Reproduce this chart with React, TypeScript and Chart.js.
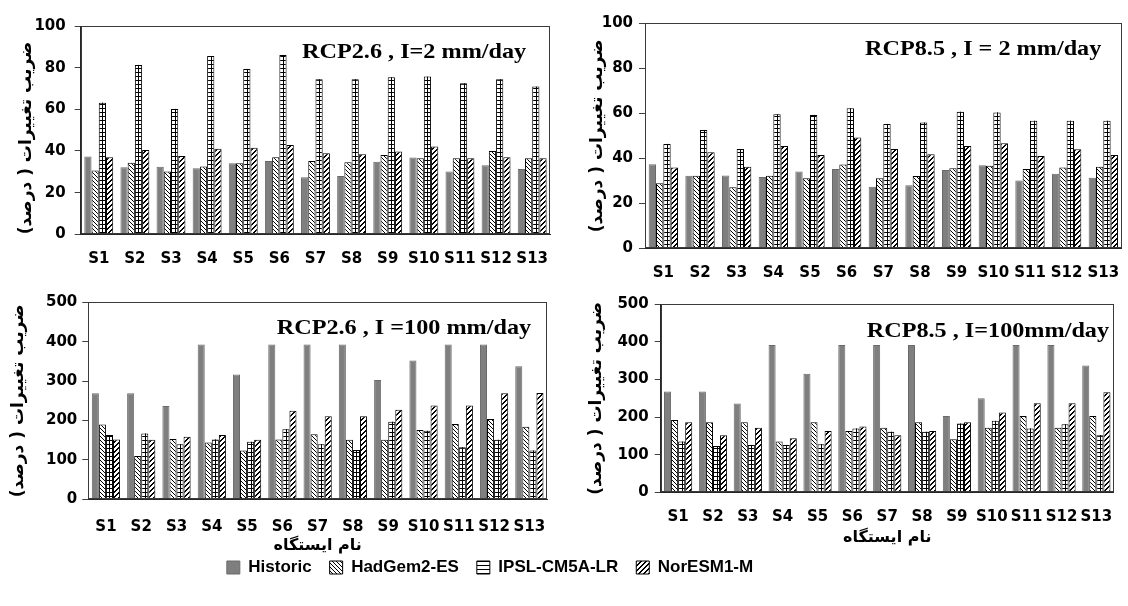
import React, { useEffect, useRef } from 'react';
import { Chart, registerables } from 'chart.js';

Chart.register(...registerables);

// ---------------- data ----------------
const STATIONS = ['S1', 'S2', 'S3', 'S4', 'S5', 'S6', 'S7', 'S8', 'S9', 'S10', 'S11', 'S12', 'S13'];
const SERIES = ['Historic', 'HadGem2-ES', 'IPSL-CM5A-LR', 'NorESM1-M'];
const Y_TITLE = 'ضریب تغییرات ( درصد)';
const X_TITLE = 'نام ایستگاه';
const PANEL_TITLES = ['RCP2.6 , I=2 mm/day', 'RCP8.5 , I = 2 mm/day', 'RCP2.6 , I =100 mm/day', 'RCP8.5 , I=100mm/day'];
const Y_TICKS_I2 = [0, 20, 40, 60, 80, 100];
const Y_TICKS_I100 = [0, 100, 200, 300, 400, 500];

// I = 2 mm/day
const HIST_I2 = [37.4, 32.2, 32.4, 31.7, 34.1, 35.2, 27.4, 28.0, 34.8, 36.9, 30.1, 33.1, 31.4];
const RCP26_I2_HAD = [30.6, 34.4, 30.1, 32.5, 34.1, 37.0, 35.2, 34.6, 38.1, 36.5, 36.5, 40.0, 36.5];
const RCP26_I2_IPSL = [63.2, 81.3, 60.2, 85.6, 79.4, 86.1, 74.4, 74.4, 75.4, 75.7, 72.5, 74.4, 70.9];
const RCP26_I2_NOR = [37.0, 40.5, 37.6, 41.1, 41.6, 42.9, 38.9, 38.4, 39.7, 42.1, 36.5, 37.0, 36.5];
const RCP85_I2_HAD = [28.9, 32.3, 27.1, 32.3, 31.1, 37.3, 31.1, 32.1, 35.6, 36.7, 35.3, 35.9, 36.3];
const RCP85_I2_IPSL = [46.4, 52.6, 44.1, 59.6, 59.3, 62.2, 55.3, 55.9, 60.7, 60.4, 56.7, 56.7, 56.7];
const RCP85_I2_NOR = [35.9, 42.7, 36.3, 45.5, 41.5, 49.3, 44.1, 41.8, 45.5, 46.7, 41.0, 44.0, 41.5];

// I = 100 mm/day
const RCP26_I100_HIST = [269, 269, 237, 393, 317, 393, 393, 393, 303, 352, 393, 393, 338];
const RCP26_I100_HAD = [190, 110, 153, 144, 124, 152, 165, 151, 151, 176, 191, 204, 184];
const RCP26_I100_IPSL = [163, 167, 140, 152, 146, 178, 140, 125, 197, 174, 132, 151, 124];
const RCP26_I100_NOR = [152, 151, 159, 163, 151, 225, 211, 211, 227, 238, 238, 269, 270];
const RCP85_I100_HIST = [268, 268, 236, 392, 315, 392, 392, 392, 203, 250, 392, 392, 337];
const RCP85_I100_HAD = [192, 186, 186, 135, 186, 163, 172, 186, 141, 172, 203, 172, 203];
const RCP85_I100_IPSL = [135, 123, 126, 126, 128, 170, 161, 161, 183, 190, 170, 181, 152];
const RCP85_I100_NOR = [186, 152, 172, 144, 163, 175, 152, 163, 186, 212, 237, 237, 266];

const PANEL_DATA = [
  [HIST_I2, RCP26_I2_HAD, RCP26_I2_IPSL, RCP26_I2_NOR],
  [HIST_I2, RCP85_I2_HAD, RCP85_I2_IPSL, RCP85_I2_NOR],
  [RCP26_I100_HIST, RCP26_I100_HAD, RCP26_I100_IPSL, RCP26_I100_NOR],
  [RCP85_I100_HIST, RCP85_I100_HAD, RCP85_I100_IPSL, RCP85_I100_NOR],
];
const PANEL_TICKS = [Y_TICKS_I2, Y_TICKS_I2, Y_TICKS_I100, Y_TICKS_I100];

// ---------------- layout (absolute page px) ----------------
type Layout = {
  box: [number, number, number, number];
  area: [number, number, number, number];
  yTitleX: number;
  yTitleAlign: 'start' | 'center' | 'end';
  yLabelPad: number;
  xLabelY: number;
  xTitleY: number | null;
  titleXY: [number, number];
  cat: number;
};
const LAYOUT: Layout[] = [
  { box: [0, 0, 564, 285], area: [80.7, 26, 557, 234.3], yTitleX: 26.5, yTitleAlign: 'start', yLabelPad: 9, xLabelY: 259, xTitleY: null, titleXY: [302, 58.3], cat: 0.8 },
  { box: [564, 0, 571, 285], area: [645, 23.3, 1131, 248.3], yTitleX: 598, yTitleAlign: 'center', yLabelPad: 6, xLabelY: 273, xTitleY: null, titleXY: [865, 55], cat: 0.8 },
  { box: [0, 280, 564, 290], area: [88.3, 302.3, 561.5, 499.3], yTitleX: 19, yTitleAlign: 'center', yLabelPad: 5, xLabelY: 527, xTitleY: 546, titleXY: [276.7, 334.3], cat: 0.8 },
  { box: [564, 280, 564, 290], area: [660.7, 304.3, 1125, 492.3], yTitleX: 597, yTitleAlign: 'center', yLabelPad: 6, xLabelY: 517, xTitleY: 538, titleXY: [866.7, 336.7], cat: 0.81 },
];
const LEGEND_BOX: [number, number, number, number] = [0, 541, 980, 130];

const TICK_FONT = '"DejaVu Sans", sans-serif';
const TICK_SIZE = 15;
const FA_FONT = '"DejaVu Sans", sans-serif';
const LEGEND_FONT = '"Liberation Sans Narrow", "Liberation Sans", Arial, sans-serif';

function makePatterns() {
  const mk = (w: number, h: number, draw: (c: CanvasRenderingContext2D) => void) => {
    const c = document.createElement('canvas');
    c.width = w;
    c.height = h;
    const g = c.getContext('2d')!;
    g.fillStyle = '#ffffff';
    g.fillRect(0, 0, w, h);
    g.fillStyle = '#000000';
    draw(g);
    return g.createPattern(c, 'repeat') as CanvasPattern;
  };
  const had = mk(4, 4, (g) => {
    for (let i = 0; i < 4; i++) g.fillRect(i, i, 1, 1);
  });
  const ipsl = mk(4, 4, (g) => {
    g.fillRect(0, 0, 4, 1);
  });
  const nor = mk(5, 5, (g) => {
    for (let x = 0; x < 5; x++)
      for (let y = 0; y < 5; y++) if ((x + y) % 5 < 2) g.fillRect(x, y, 1, 1);
  });
  return { had, ipsl, nor };
}

export default function App() {
  const refs = useRef<(HTMLCanvasElement | null)[]>([]);
  const legendRef = useRef<HTMLCanvasElement | null>(null);

  useEffect(() => {
    const pats = makePatterns();
    const fills: any[] = ['#7f7f7f', pats.had, pats.ipsl, pats.nor];
    const borders = ['#6a6a6a', '#000000', '#000000', '#000000'];
    const charts: Chart[] = [];

    LAYOUT.forEach((L, pi) => {
      const canvas = refs.current[pi];
      if (!canvas) return;
      const [bx, by, bw, bh] = L.box;
      const [al, at, ar, ab] = L.area;
      const ticks = PANEL_TICKS[pi];
      const decor = {
        id: 'decor' + pi,
        afterDatasetsDraw(chart: any) {
          const { ctx, chartArea } = chart;
          ctx.save();
          // centre line of the IPSL ladder hatch, taken from the library's bar elements
          const meta = chart.getDatasetMeta(2);
          ctx.strokeStyle = '#000';
          ctx.lineWidth = 1;
          meta.data.forEach((el: any) => {
            const x = Math.round(el.x) + 0.5;
            ctx.beginPath();
            ctx.moveTo(x, el.y);
            ctx.lineTo(x, el.base);
            ctx.stroke();
          });
          ctx.strokeStyle = '#3a3a3a';
          const l = Math.round(chartArea.left) + 0.5;
          const t = Math.round(chartArea.top) + 0.5;
          const r = Math.round(chartArea.right) - 0.5;
          const b = Math.round(chartArea.bottom) - 0.5;
          ctx.strokeRect(l, t, r - l, b - t);
          ctx.font = 'bold 22px "Liberation Serif", serif';
          ctx.fillStyle = '#000';
          ctx.textAlign = 'left';
          ctx.textBaseline = 'alphabetic';
          ctx.translate(L.titleXY[0] - bx, L.titleXY[1] - by);
          ctx.scale(1.1, 1);
          ctx.fillText(PANEL_TITLES[pi], 0, 0);
          ctx.restore();
        },
      };
      const chart = new Chart(canvas, {
        type: 'bar',
        data: {
          labels: STATIONS,
          datasets: PANEL_DATA[pi].map((d, i) => ({
            label: SERIES[i],
            data: d,
            backgroundColor: fills[i],
            borderColor: borders[i],
            borderWidth: 1,
            categoryPercentage: L.cat,
            barPercentage: 1,
          })),
        },
        options: {
          responsive: false,
          maintainAspectRatio: false,
          animation: false,
          events: [],
          layout: { padding: { left: 0, top: at - by, right: bx + bw - ar, bottom: 0 } },
          plugins: { legend: { display: false }, tooltip: { enabled: false } },
          scales: {
            x: {
              offset: true,
              grid: { display: false, drawTicks: false },
              border: { display: true, color: '#262626', width: 1 },
              ticks: {
                color: '#000',
                font: { family: TICK_FONT, weight: 'bold', size: TICK_SIZE },
                padding: L.xLabelY - ab - TICK_SIZE * 0.6,
                maxRotation: 0,
                minRotation: 0,
                autoSkip: false,
              },
              title: L.xTitleY
                ? {
                    display: true,
                    text: X_TITLE,
                    color: '#000',
                    font: { family: FA_FONT, weight: 'bold', size: 16 },
                    padding: { top: 0, bottom: by + bh - L.xTitleY - 9.6 },
                  }
                : { display: false },
              afterFit: (s: any) => {
                s.height = by + bh - ab;
              },
            },
            y: {
              min: 0,
              max: ticks[ticks.length - 1],
              afterBuildTicks: (s: any) => {
                s.ticks = ticks.map((v) => ({ value: v }));
              },
              grid: { display: true, drawOnChartArea: false, drawTicks: true, tickLength: 6, color: '#404040' },
              border: { display: true, color: '#262626', width: 1 },
              ticks: {
                color: '#000',
                font: { family: TICK_FONT, weight: 'bold', size: TICK_SIZE },
                padding: L.yLabelPad,
              },
              title: {
                display: true,
                text: '\u202B' + Y_TITLE + '\u202C',
                align: L.yTitleAlign,
                color: '#000',
                font: { family: FA_FONT, weight: 'bold', size: 17 },
                padding: { top: L.yTitleX - bx - 10.2, bottom: 0 },
              },
              afterFit: (s: any) => {
                s.width = al - bx;
              },
            },
          },
        } as any,
        plugins: [decor],
      });
      charts.push(chart);
    });

    if (legendRef.current) {
      const lg = new Chart(legendRef.current, {
        type: 'bar',
        data: {
          labels: [''],
          datasets: SERIES.map((s, i) => ({
            label: s,
            data: [null],
            backgroundColor: fills[i],
            borderColor: borders[i],
            borderWidth: 1,
          })),
        },
        options: {
          responsive: false,
          maintainAspectRatio: false,
          animation: false,
          events: [],
          layout: { padding: 0 },
          scales: { x: { display: false }, y: { display: false } },
          plugins: {
            tooltip: { enabled: false },
            legend: {
              display: true,
              position: 'top',
              labels: {
                boxWidth: 13,
                boxHeight: 13,
                padding: 18,
                color: '#000',
                font: { family: LEGEND_FONT, weight: 'bold', size: 17 },
              },
            },
          },
        } as any,
      });
      charts.push(lg);
    }

    return () => charts.forEach((c) => c.destroy());
  }, []);

  return (
    <div style={{ position: 'absolute', left: 0, top: 0, width: 1128, height: 606, overflow: 'hidden', background: '#fff' }}>
      {LAYOUT.map((L, i) => (
        <canvas
          key={i}
          ref={(el) => {
            refs.current[i] = el;
          }}
          width={L.box[2]}
          height={L.box[3]}
          style={{ position: 'absolute', left: L.box[0], top: L.box[1], width: L.box[2], height: L.box[3] }}
        />
      ))}
      <canvas
        ref={legendRef}
        width={LEGEND_BOX[2]}
        height={LEGEND_BOX[3]}
        style={{ position: 'absolute', left: LEGEND_BOX[0], top: LEGEND_BOX[1], width: LEGEND_BOX[2], height: LEGEND_BOX[3] }}
      />
    </div>
  );
}
